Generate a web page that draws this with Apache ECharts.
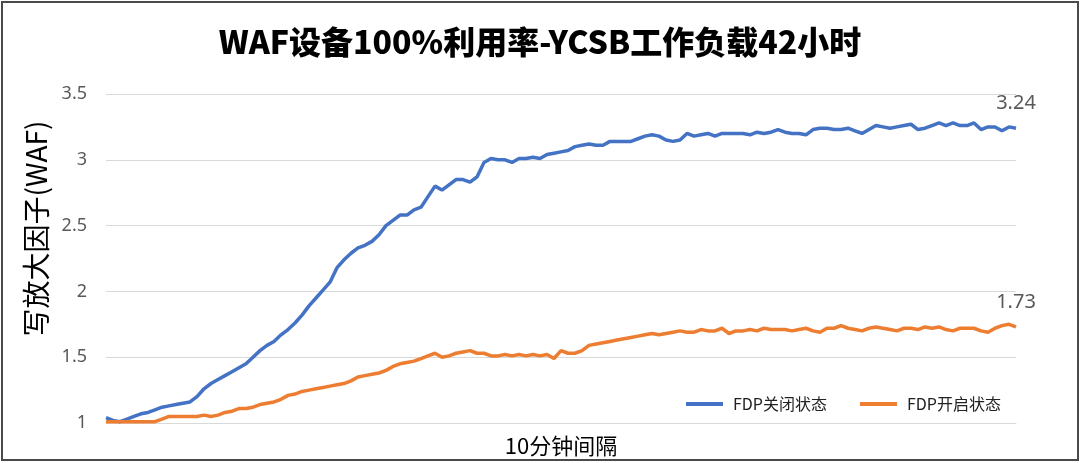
<!DOCTYPE html>
<html>
<head>
<meta charset="utf-8">
<script src="https://cdn.jsdelivr.net/npm/echarts@6/dist/echarts.min.js"></script>
<style>
html,body{margin:0;padding:0;background:#fff;}
#frame{position:absolute;left:1px;top:1px;width:1074px;height:456px;border:2px solid #4a4a4a;box-sizing:content-box;}
#chart{position:absolute;left:0;top:0;width:1080px;height:463px;}
</style>
</head>
<body>
<div id="frame"></div>
<div id="chart"></div>
<script>
const titleText = 'WAF设备100%利用率-YCSB工作负载42小时';
const yAxisName = '写放大因子(WAF)';
const xAxisName = '10分钟间隔';
const seriesNames = ['FDP关闭状态', 'FDP开启状态'];
const yTicks = {min: 1, max: 3.5, interval: 0.5};

const fdpOff = [
1.04,1.02,1.01,1.03,1.05,1.07,1.08,1.10,1.12,1.13,
1.14,1.15,1.16,1.20,1.26,1.30,1.33,1.36,1.39,1.42,
1.45,1.50,1.55,1.59,1.62,1.67,1.71,1.76,1.82,1.89,
1.95,2.01,2.07,2.18,2.24,2.29,2.33,2.35,2.38,2.43,
2.50,2.54,2.58,2.58,2.62,2.64,2.72,2.80,2.77,2.81,
2.85,2.85,2.83,2.87,2.98,3.01,3.00,3.00,2.98,3.01,
3.01,3.02,3.01,3.04,3.05,3.06,3.07,3.10,3.11,3.12,
3.11,3.11,3.14,3.14,3.14,3.14,3.16,3.18,3.19,3.18,
3.15,3.14,3.15,3.20,3.18,3.19,3.20,3.18,3.20,3.20,
3.20,3.20,3.19,3.21,3.20,3.21,3.23,3.21,3.20,3.20,
3.19,3.23,3.24,3.24,3.23,3.23,3.24,3.22,3.20,3.23,
3.26,3.25,3.24,3.25,3.26,3.27,3.23,3.24,3.26,3.28,
3.26,3.28,3.26,3.26,3.28,3.23,3.25,3.25,3.22,3.25,
3.24];

const fdpOn = [
1.01,1.01,1.01,1.01,1.01,1.01,1.01,1.01,1.03,1.05,
1.05,1.05,1.05,1.05,1.06,1.05,1.06,1.08,1.09,1.11,
1.11,1.12,1.14,1.15,1.16,1.18,1.21,1.22,1.24,1.25,
1.26,1.27,1.28,1.29,1.30,1.32,1.35,1.36,1.37,1.38,
1.40,1.43,1.45,1.46,1.47,1.49,1.51,1.53,1.50,1.51,
1.53,1.54,1.55,1.53,1.53,1.51,1.51,1.52,1.51,1.52,
1.51,1.52,1.51,1.52,1.49,1.55,1.53,1.53,1.55,1.59,
1.60,1.61,1.62,1.63,1.64,1.65,1.66,1.67,1.68,1.67,
1.68,1.69,1.70,1.69,1.69,1.71,1.70,1.70,1.72,1.68,
1.70,1.70,1.71,1.70,1.72,1.71,1.71,1.71,1.70,1.71,
1.72,1.70,1.69,1.72,1.72,1.74,1.72,1.71,1.70,1.72,
1.73,1.72,1.71,1.70,1.72,1.72,1.71,1.73,1.72,1.73,
1.71,1.70,1.72,1.72,1.72,1.70,1.69,1.72,1.74,1.75,
1.73];

const categories = fdpOff.map((_, i) => String(i + 1));

function endMark(arr) {
  const last = arr.length - 1;
  return {
    symbol: 'circle',
    symbolSize: 0,
    silent: true,
    label: {
      show: true,
      position: 'top',
      distance: 15,
      color: '#595959',
      fontSize: 20,
      fontFamily: 'Noto Sans',
      formatter: p => Number(p.value).toFixed(2)
    },
    data: [{coord: [categories[last], arr[last]], value: arr[last]}]
  };
}

const chart = echarts.init(document.getElementById('chart'), null, {renderer: 'canvas'});
chart.setOption({
  backgroundColor: 'transparent',
  animation: false,
  title: {
    text: titleText,
    left: 'center',
    top: 21,
    textStyle: {fontFamily: 'Noto Sans CJK SC', fontWeight: 900, fontSize: 32, color: '#000'}
  },
  legend: {
    data: seriesNames,
    left: 681,
    top: 391,
    itemWidth: 37,
    itemHeight: 4,
    itemGap: 33,
    icon: 'rect',
    textStyle: {fontFamily: 'Noto Sans CJK SC', fontSize: 16, color: '#222', padding: [0, 0, 0, 5]}
  },
  grid: {left: 106, right: 64, top: 94, bottom: 40, containLabel: false, outerBoundsMode: 'none'},
  xAxis: {
    type: 'category',
    data: categories,
    boundaryGap: false,
    name: xAxisName,
    nameLocation: 'middle',
    nameGap: 12,
    nameTextStyle: {fontFamily: 'Noto Sans CJK SC', fontSize: 22, color: '#000'},
    axisLine: {show: true, lineStyle: {color: '#d9d9d9', width: 1}},
    axisTick: {show: false},
    axisLabel: {show: false},
    splitLine: {show: false}
  },
  yAxis: {
    type: 'value',
    min: yTicks.min,
    max: yTicks.max,
    interval: yTicks.interval,
    name: yAxisName,
    nameLocation: 'middle',
    nameGap: 56,
    nameRotate: 90,
    nameTextStyle: {fontFamily: 'Noto Sans CJK SC', fontSize: 28, color: '#000', padding: [0, 0, 0, 60]},
    axisLine: {show: false},
    axisTick: {show: false},
    axisLabel: {color: '#595959', fontSize: 18, fontFamily: 'Noto Sans', margin: 19},
    splitLine: {lineStyle: {color: '#d9d9d9', width: 1}}
  },
  series: [
    {
      name: seriesNames[0],
      type: 'line',
      data: fdpOff,
      showSymbol: false,
      symbol: 'none',
      lineStyle: {color: '#4472C4', width: 3.5},
      itemStyle: {color: '#4472C4'},
      markPoint: endMark(fdpOff)
    },
    {
      name: seriesNames[1],
      type: 'line',
      data: fdpOn,
      showSymbol: false,
      symbol: 'none',
      lineStyle: {color: '#ED7D31', width: 3.5},
      itemStyle: {color: '#ED7D31'},
      markPoint: endMark(fdpOn)
    }
  ]
});
</script>
</body>
</html>
